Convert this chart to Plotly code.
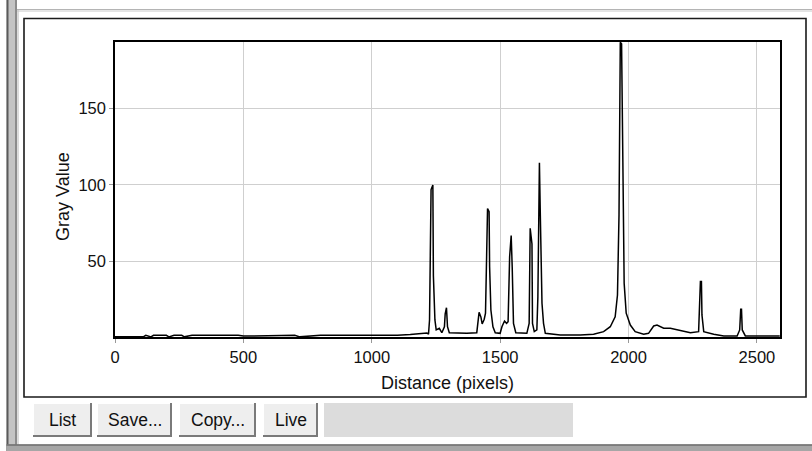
import plotly.graph_objects as go

distance = [0, 110, 120, 140, 150, 200, 210, 230, 260, 270, 300, 480, 500, 700, 720, 800, 1000, 1100, 1150, 1190, 1215,
            1221, 1225, 1231, 1235, 1238, 1240, 1246, 1251, 1263, 1273, 1283, 1286, 1289, 1291, 1295, 1302,
            1370, 1409, 1418, 1425, 1430, 1438, 1443, 1451, 1457, 1459, 1464, 1472, 1481,
            1500, 1507, 1517, 1525, 1531, 1537, 1541, 1543, 1547, 1552, 1561,
            1604, 1613, 1617, 1624, 1626, 1633, 1643, 1647, 1653, 1656, 1663, 1669, 1676,
            1734, 1812, 1864, 1903, 1929, 1948, 1957, 1963, 1968, 1973, 1978, 1983, 1991, 2007, 2026,
            2059, 2078, 2098, 2111, 2137, 2163, 2189, 2215, 2241, 2273,
            2280, 2284, 2286, 2293, 2332, 2371, 2423, 2433, 2437, 2440, 2443, 2455, 2480, 2589]
gray_value = [1, 1, 2, 1, 2, 2, 1, 2, 2, 1, 2, 2, 1.5, 2, 1, 2, 2, 2, 2.5, 3, 3.5,
              2.7, 12, 97, 99, 100, 41, 12, 5.5, 6.6, 3.7, 7.6, 16, 18, 20, 7.6, 3.7,
              3.3, 3.7, 17, 14, 9.4, 12.5, 16.4, 84.6, 82.6, 46.7, 18.5, 7.6, 3.7,
              3.3, 7.6, 11.3, 9.8, 10.9, 53.3, 60, 67, 46.7, 9.8, 3.7,
              3.3, 9.8, 71.8, 61.5, 9.8, 4.4, 5.5, 27.2, 114.5, 85, 22.9, 9.8, 3.3,
              2.2, 2.2, 2.7, 4.4, 7.6, 14.1, 28.3, 80.4, 193, 192, 115, 36, 16.4, 8.7, 4.4,
              2.7, 3.3, 8.1, 8.7, 6.6, 6.6, 5.5, 4.4, 3.7, 4.4,
              37, 37, 15.3, 4.4, 2.7, 1.6, 1.6, 5.5, 19, 19, 5.5, 1.6, 1.6, 1.6]
x_ticks = [0, 500, 1000, 1500, 2000, 2500]
y_ticks = [50, 100, 150]
buttons = ["List", "Save...", "Copy...", "Live"]

W, H = 812, 451
L, R, T, B = 115, 780, 42, 337
PW, PH = R - L, B - T
FONT = "Liberation Sans, Arial, sans-serif"


def fx(px):
    return (px - L) / PW


def fy(py):
    return (B - py) / PH


fig = go.Figure()
fig.add_trace(go.Scatter(x=distance, y=gray_value, mode="lines",
                         line=dict(color="black", width=1.5), hoverinfo="skip"))

shapes = []


def rect(x0, y0, x1, y1, fill=None, line=None, lw=0, layer="above"):
    d = dict(type="rect", xref="paper", yref="paper", x0=fx(x0), x1=fx(x1), y0=fy(y1), y1=fy(y0),
             layer=layer, line=dict(width=lw, color=line or "rgba(0,0,0,0)"))
    if fill:
        d["fillcolor"] = fill
    shapes.append(d)


def hline(x0, x1, y, color, w=1):
    shapes.append(dict(type="line", xref="paper", yref="paper", x0=fx(x0), x1=fx(x1), y0=fy(y), y1=fy(y),
                       line=dict(color=color, width=w)))


def vline(x, y0, y1, color, w=1):
    shapes.append(dict(type="line", xref="paper", yref="paper", x0=fx(x), x1=fx(x), y0=fy(y0), y1=fy(y1),
                       line=dict(color=color, width=w)))


# window chrome
rect(6.5, 0, 17, 451, fill="#c4c4c4")
vline(7.5, 0, 451, "#5a5a5a", 2)
vline(16, 0, 451, "#8c8c8c", 2)
vline(18, 9, 446, "#b8b8b8", 1)
hline(17, 812, 9.5, "#b4b4b4", 1)
hline(17, 812, 11, "#c8c8c8", 1)
rect(6.5, 444.5, 812, 451, fill="#a6a6a6")
hline(6.5, 812, 445, "#6e6e6e", 1.5)
rect(24, 18.5, 806, 397, line="#1a1a1a", lw=1.6)

# buttons
btn_x = [(33, 92), (97, 172), (179, 256), (263, 318)]
annotations = []
for (x0, x1), label in zip(btn_x, buttons):
    rect(x0, 403, x1, 437, fill="#eeeeee")
    hline(x0, x1, 403.5, "#ffffff", 1)
    vline(x0 + 0.5, 403, 437, "#ffffff", 1)
    hline(x0, x1, 436, "#7a7a7a", 2)
    vline(x1 - 1, 403, 437, "#7a7a7a", 2)
    annotations.append(dict(text=label, xref="paper", yref="paper", x=fx((x0 + x1) / 2), y=fy(420),
                            xanchor="center", yanchor="middle", showarrow=False,
                            font=dict(family=FONT, size=17.5, color="#111")))
rect(324, 403, 573, 437, fill="#dcdcdc")

annotations.append(dict(text="Distance (pixels)", xref="paper", yref="paper", x=fx(447), y=fy(383),
                        xanchor="center", yanchor="middle", showarrow=False,
                        font=dict(family=FONT, size=18, color="#111")))
annotations.append(dict(text="Gray Value", xref="paper", yref="paper", x=fx(63), y=fy(197),
                        xanchor="center", yanchor="middle", showarrow=False, textangle=-90,
                        font=dict(family=FONT, size=18, color="#111")))

fig.update_layout(
    width=W, height=H, margin=dict(l=L, r=W - R, t=T, b=H - B, autoexpand=False),
    paper_bgcolor="white", plot_bgcolor="white", showlegend=False,
    shapes=shapes, annotations=annotations,
    font=dict(family=FONT, size=16.5, color="#111"),
    xaxis=dict(range=[0, 2590], tickvals=x_ticks, ticktext=[str(v) for v in x_ticks],
               showgrid=True, gridcolor="#cfcfcf", gridwidth=1.2, zeroline=False,
               showline=True, linecolor="black", linewidth=1.5, mirror=True,
               ticks="outside", ticklen=4, tickcolor="#999", tickfont=dict(size=16.5)),
    yaxis=dict(range=[0.9, 193.2], tickvals=y_ticks, ticktext=[str(v) for v in y_ticks],
               showgrid=True, gridcolor="#cfcfcf", gridwidth=1.2, zeroline=False,
               showline=True, linecolor="black", linewidth=1.5, mirror=True,
               ticks="outside", ticklen=4, tickcolor="#999", tickfont=dict(size=16.5)),
)

fig.write_html("out.html")
